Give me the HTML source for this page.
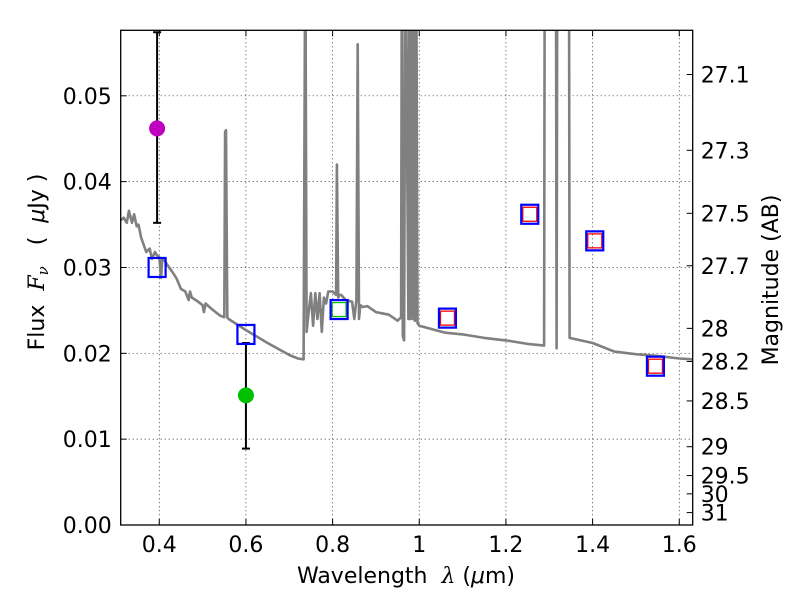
<!DOCTYPE html>
<html><head><meta charset="utf-8"><style>
body{margin:0;background:#fff}
svg{display:block;font-family:"DejaVu Sans","Liberation Sans",sans-serif}
</style></head><body>
<svg id="c" width="800" height="600" viewBox="0 0 800 600"></svg>
<script>
const xTicks=[0.4,0.6,0.8,1.0,1.2,1.4,1.6];
const xTickLabels=["0.4","0.6","0.8","1","1.2","1.4","1.6"];
const yTicks=[0,0.01,0.02,0.03,0.04,0.05];
const yTickLabels=["0.00","0.01","0.02","0.03","0.04","0.05"];
const magTicks=[27.1,27.3,27.5,27.7,28,28.2,28.5,29,29.5,30,31];
const magLabels=["27.1","27.3","27.5","27.7","28","28.2","28.5","29","29.5","30","31"];
const specLam=[0.311,0.318,0.325,0.33,0.337,0.342,0.348,0.352,0.358,0.365,0.37,0.378,0.383,0.39,0.395,0.4,0.404,0.407,0.41,0.42,0.43,0.44,0.45,0.46,0.468,0.471,0.475,0.49,0.5,0.503,0.507,0.52,0.53,0.54,0.55,0.552,0.554,0.557,0.56,0.6,0.65,0.7,0.72,0.733,0.737,0.74,0.743,0.75,0.755,0.76,0.765,0.77,0.775,0.78,0.785,0.79,0.8,0.808,0.81,0.813,0.816,0.82,0.83,0.845,0.85,0.855,0.858,0.861,0.864,0.87,0.88,0.9,0.93,0.95,0.958,0.96,0.962,0.965,0.968,0.975,0.977,0.979,0.982,0.985,0.988,0.99,0.993,0.996,1.0,1.03,1.06,1.1,1.15,1.2,1.25,1.288,1.29,1.315,1.317,1.319,1.345,1.347,1.4,1.45,1.5,1.55,1.6,1.63];
const specFlux=[0.0355,0.0358,0.0352,0.0366,0.0352,0.0362,0.0348,0.035,0.0335,0.0325,0.0318,0.0322,0.031,0.0318,0.0314,0.0312,0.0288,0.031,0.031,0.0302,0.0295,0.0287,0.0275,0.0272,0.0262,0.0272,0.0265,0.0260,0.0256,0.0248,0.0258,0.0252,0.0248,0.0244,0.0242,0.0458,0.046,0.0242,0.0240,0.0227,0.0212,0.0198,0.0194,0.0193,0.07,0.0225,0.024,0.027,0.0232,0.027,0.024,0.027,0.0225,0.0265,0.0258,0.0272,0.0272,0.0268,0.042,0.0265,0.0268,0.0268,0.0262,0.026,0.024,0.0262,0.056,0.024,0.0256,0.0254,0.0255,0.0248,0.0245,0.0238,0.0242,0.07,0.022,0.0215,0.07,0.024,0.07,0.024,0.07,0.024,0.07,0.0238,0.07,0.0235,0.0232,0.0228,0.0224,0.0222,0.0218,0.0215,0.0211,0.0209,0.08,0.08,0.0206,0.08,0.08,0.0218,0.0212,0.0202,0.0199,0.0197,0.0194,0.0193];
const obsLam=[0.395,0.6];
const obsFlux=[0.0462,0.0151];
const obsLo=[0.0352,0.0089];
const obsHi=[0.0574,0.0212];
const obsColors=["#bf00bf","#00c000"];
const modelLam=[0.395,0.6,0.815,1.065,1.255,1.405,1.545];
const modelFlux=[0.0300,0.0222,0.0251,0.0241,0.0362,0.0331,0.0185];
const innerColors=[null,null,"#00c000","red","red","red","red"];

const L=120.7,R=692.7,T=30.3,B=525;
const xmin=0.311,xmax=1.631,ymin=0,ymax=0.05763;
const X=v=>L+(v-xmin)/(xmax-xmin)*(R-L);
const Y=v=>B-(v-ymin)/(ymax-ymin)*(B-T);
const NS="http://www.w3.org/2000/svg";
const svg=document.getElementById('c');
function el(t,a,p){const e=document.createElementNS(NS,t);for(const k in a)e.setAttribute(k,a[k]);(p||svg).appendChild(e);return e;}
const defs=el('defs',{});const cp=el('clipPath',{id:'pc'},defs);el('rect',{x:L,y:T,width:R-L,height:B-T},cp);

const grid=el('g',{});


xTicks.forEach(v=>el('line',{x1:X(v),x2:X(v),y1:T,y2:B,stroke:'#000','stroke-width':0.7,'stroke-dasharray':'1,3'},grid));
yTicks.forEach(v=>el('line',{x1:L,x2:R,y1:Y(v),y2:Y(v),stroke:'#000','stroke-width':0.7,'stroke-dasharray':'1,3'},grid));

const pg=el('g',{'clip-path':'url(#pc)'});
let d=specLam.map((l,i)=>(i?'L':'M')+X(l).toFixed(1)+','+Y(specFlux[i]).toFixed(1)).join(' ');
const sp=el('path',{d:d,fill:'none',stroke:'#808080','stroke-width':2.6,'stroke-linejoin':'round'},pg);



obsLam.forEach((l,i)=>{
 const g=el('g',{},pg);
 
 
 const x=X(l);
 el('line',{x1:x,x2:x,y1:Y(obsLo[i]),y2:Y(obsHi[i]),stroke:'#000','stroke-width':2},g);
 [obsLo[i],obsHi[i]].forEach(v=>el('line',{x1:x-4,x2:x+4,y1:Y(v),y2:Y(v),stroke:'#000','stroke-width':2},g));
 el('circle',{cx:x,cy:Y(obsFlux[i]),r:8,fill:obsColors[i]},g);
});
modelLam.forEach((l,i)=>{
 const g=el('g',{},pg);
 
 
 const x=X(l),y=Y(modelFlux[i]);
 if(innerColors[i])el('rect',{x:x-7,y:y-7,width:14,height:14,fill:'none',stroke:innerColors[i],'stroke-width':1.3},g);
 el('rect',{x:x-8.5,y:y-9.5,width:17,height:19,fill:'none',stroke:'#0000ff','stroke-width':2.2},g);
});

el('rect',{x:L,y:T,width:R-L,height:B-T,fill:'none',stroke:'#000','stroke-width':1.3});

const xa=el('g',{});


xTicks.forEach((v,i)=>{
 el('line',{x1:X(v),x2:X(v),y1:B,y2:B-6,stroke:'#000'},xa);
 el('line',{x1:X(v),x2:X(v),y1:T,y2:T+6,stroke:'#000'},xa);
 const t=el('text',{x:X(v),y:B+27,'text-anchor':'middle','font-size':22},xa);t.textContent=xTickLabels[i];
});
const ya=el('g',{});


yTicks.forEach((v,i)=>{
 el('line',{x1:L,x2:L+6,y1:Y(v),y2:Y(v),stroke:'#000'},ya);
 const t=el('text',{x:L-9,y:Y(v)+8,'text-anchor':'end','font-size':22},ya);t.textContent=yTickLabels[i];
});
const ma=el('g',{});


magTicks.forEach((m,i)=>{
 const f=Math.pow(10,(23.9-m)/2.5);const y=Y(f);
 el('line',{x1:R,x2:R-6,y1:y,y2:y,stroke:'#000'},ma);
 const t=el('text',{x:R+8,y:y+8,'font-size':22},ma);t.textContent=magLabels[i];
});
</script>
<svg style="position:absolute;left:0;top:0" width="800" height="600">
<text x="406" y="583" text-anchor="middle" font-size="22" font-family="DejaVu Sans, sans-serif" xml:space="preserve">Wavelength  <tspan font-family="DejaVu Serif, serif" font-style="italic">λ</tspan> (<tspan font-style="italic">μ</tspan>m)</text>
<text transform="translate(44,262) rotate(-90)" text-anchor="middle" font-size="22" font-family="DejaVu Sans, sans-serif" xml:space="preserve">Flux  <tspan font-family="DejaVu Serif, serif" font-style="italic">F<tspan font-size="15" dy="4">ν</tspan></tspan><tspan dy="-4">   (  </tspan><tspan font-style="italic">μ</tspan>Jy )</text>
<text transform="translate(778,280) rotate(-90)" text-anchor="middle" font-size="22" font-family="DejaVu Sans, sans-serif">Magnitude (AB)</text>
</svg>
</body></html>
